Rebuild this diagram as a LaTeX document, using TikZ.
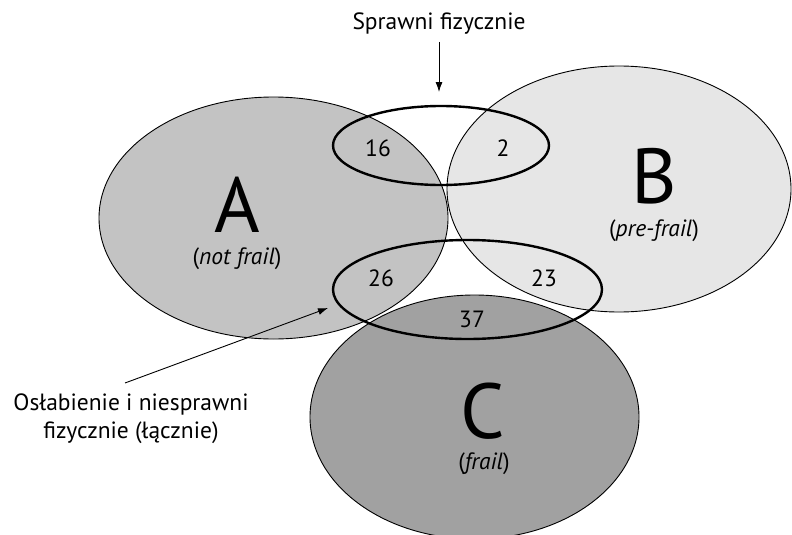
\documentclass[tikz,border=0pt]{standalone}
\usepackage{fontspec}
\setmainfont{PT Sans}
\usetikzlibrary{arrows.meta}
\definecolor{fillA}{HTML}{C3C3C3}
\definecolor{fillB}{HTML}{E6E6E6}
\definecolor{fillC}{HTML}{A1A1A1}
\begin{document}
\begin{tikzpicture}[x=1pt,y=-1pt,
  setell/.style={draw=black,line width=0.9pt},
  groupell/.style={draw=black,line width=2.4pt},
  bigletter/.style={font=\fontsize{78}{80}\selectfont,inner sep=0pt,text depth=0pt},
  sublabel/.style={font=\fontsize{23.5}{26}\selectfont,inner sep=0pt},
  numlabel/.style={font=\fontsize{23.5}{26}\selectfont,inner sep=0pt},
  note/.style={font=\fontsize{23.5}{28}\selectfont,inner sep=0pt,align=center},
  pointer/.style={-{Latex[length=10pt,width=7pt]},line width=0.9pt}]
\useasboundingbox (0,0) rectangle (792,535);
\begin{scope}
\clip (0,0) rectangle (792,535);
\fill[fillA] (273.5,218) ellipse [x radius=174.5, y radius=121];
\draw[setell] (273.5,218) ellipse [x radius=174.5, y radius=121];
\fill[fillB] (619,189) ellipse [x radius=172, y radius=123];
\draw[setell] (619,189) ellipse [x radius=172, y radius=123];
\fill[fillC] (474.5,417) ellipse [x radius=164.5, y radius=122];
\draw[setell] (474.5,417) ellipse [x radius=164.5, y radius=122];
\end{scope}
\draw[groupell] (441,145.5) ellipse [x radius=108, y radius=39.5];
\draw[groupell] (467.5,289.5) ellipse [x radius=134.5, y radius=49.5];
\node[bigletter] (lA) at (237,205) {A};
\node[sublabel] (sA) at (237,259) {(\textit{not frail})};
\node[bigletter] (lB) at (654.5,176) {B};
\node[sublabel] (sB) at (654,231) {(\textit{pre-frail})};
\node[bigletter] (lC) at (483,411) {C};
\node[sublabel] (sC) at (484,464) {(\textit{frail})};
\node[numlabel] (n16) at (378,148) {16};
\node[numlabel] (n2) at (503,148) {2};
\node[numlabel] (n26) at (381,278) {26};
\node[numlabel] (n23) at (544,278) {23};
\node[numlabel] (n37) at (472,319) {37};
\node[note] (top) at (439,24) {Sprawni fizycznie};
\node[note] (low) at (131,419) {Osłabienie i niesprawni\\fizycznie (łącznie)};
\coordinate (arrStart) at (439,42);
\coordinate (tipTop) at (439,92);
\coordinate (tipLow) at (328,308);
\coordinate (startLow) at (125,383);
\draw[pointer] (arrStart) -- (tipTop);
\draw[pointer] (startLow) -- (tipLow);
\end{tikzpicture}
\end{document}
